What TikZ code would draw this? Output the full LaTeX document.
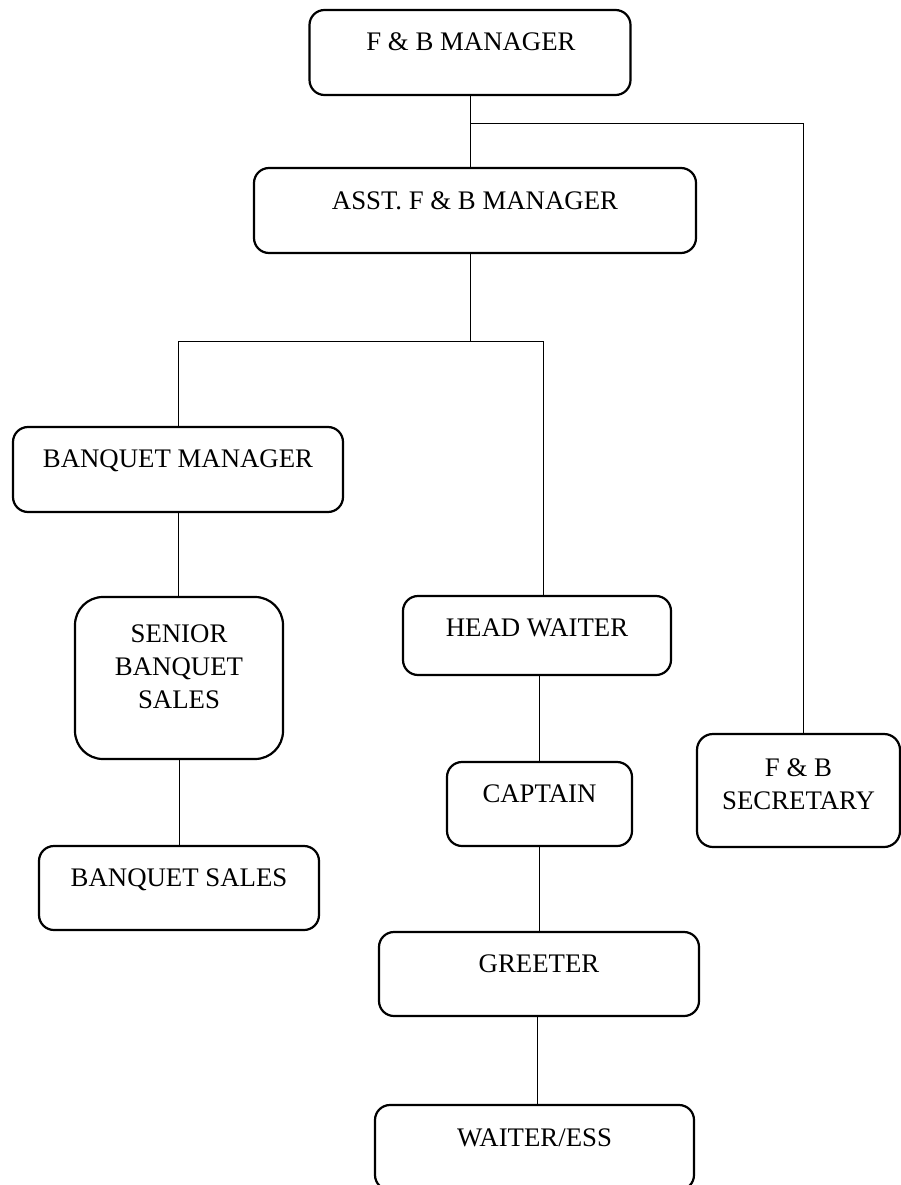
\documentclass[tikz,border=0pt]{standalone}
\usepackage{fontspec}
\setmainfont{Liberation Serif}
\usetikzlibrary{calc}
\tikzset{
  box/.style={draw, line width=2.2pt, rounded corners=15pt, inner sep=0pt},
  lbl/.style={font=\fontsize{26.8}{33}\selectfont, inner sep=0pt, align=center},
  conn/.style={line width=0.9pt}
}
\begin{document}
\begin{tikzpicture}[x=1pt,y=-1pt]
\useasboundingbox (0,0) rectangle (901,1185);
\clip (0,0) rectangle (901,1185);
\fill[white] (0,0) rectangle (901,1185);
% boxes
\node[box, minimum width=321pt, minimum height=85pt] (fbm) at (470,52.5) {};
\node[box, minimum width=442pt, minimum height=85pt] (asst) at (475,210.5) {};
\node[box, minimum width=330pt, minimum height=85pt] (bm) at (178,469.5) {};
\node[box, rounded corners=28pt, minimum width=208pt, minimum height=162pt] (sbs) at (179,678) {};
\node[box, minimum width=268pt, minimum height=79pt] (hw) at (537,635.5) {};
\node[box, minimum width=185pt, minimum height=84pt] (cap) at (539.5,804) {};
\node[box, rounded corners=16pt, minimum width=203pt, minimum height=113pt] (sec) at (798.5,790.5) {};
\node[box, minimum width=280pt, minimum height=84pt] (bs) at (179,888) {};
\node[box, minimum width=320pt, minimum height=84pt] (gr) at (539,974) {};
\node[box, minimum width=319pt, minimum height=85pt] (wt) at (534.5,1147.5) {};
% texts
\node[lbl, anchor=base] (tfbm) at (471,51) {F \& B MANAGER};
\node[lbl, anchor=base] (tasst) at (475,209) {ASST. F \& B MANAGER};
\node[lbl, anchor=base] (tbm) at (178,467) {BANQUET MANAGER};
\node[lbl] (tsbs) at (179,667) {SENIOR\\BANQUET\\SALES};
\node[lbl, anchor=base] (thw) at (537,636) {HEAD WAITER};
\node[lbl, anchor=base] (tcap) at (539.5,802) {CAPTAIN};
\node[lbl] (tsec) at (798.5,784) {F \& B\\SECRETARY};
\node[lbl, anchor=base] (tbs) at (179,886) {BANQUET SALES};
\node[lbl, anchor=base] (tgr) at (539,972) {GREETER};
\node[lbl, anchor=base] (twt) at (534.5,1146) {WAITER/ESS};
% junctions
\coordinate (j1) at (470,123);
\coordinate (j2) at (470,341);
\coordinate (jl) at (178,341);
\coordinate (jr) at (543,341);
\coordinate (js) at (803,123);
\coordinate (jw) at (537,1000);
% connectors
\draw[conn] (fbm.south) -- (fbm.south |- asst.north);
\draw[conn] (j1) -- (js) -- (js |- sec.north);
\draw[conn] (asst.south -| j2) -- (j2);
\draw[conn] (bm.north) -- (jl) -- (jr) -- (jr |- hw.north);
\draw[conn] (bm.south) -- (bm.south |- sbs.north);
\draw[conn] (sbs.south) -- (sbs.south |- bs.north);
\draw[conn] (cap.north |- hw.south) -- (cap.north);
\draw[conn] (cap.south) -- (cap.south |- gr.north);
\draw[conn] (jw |- gr.south) -- (jw |- wt.north);
\end{tikzpicture}
\end{document}
